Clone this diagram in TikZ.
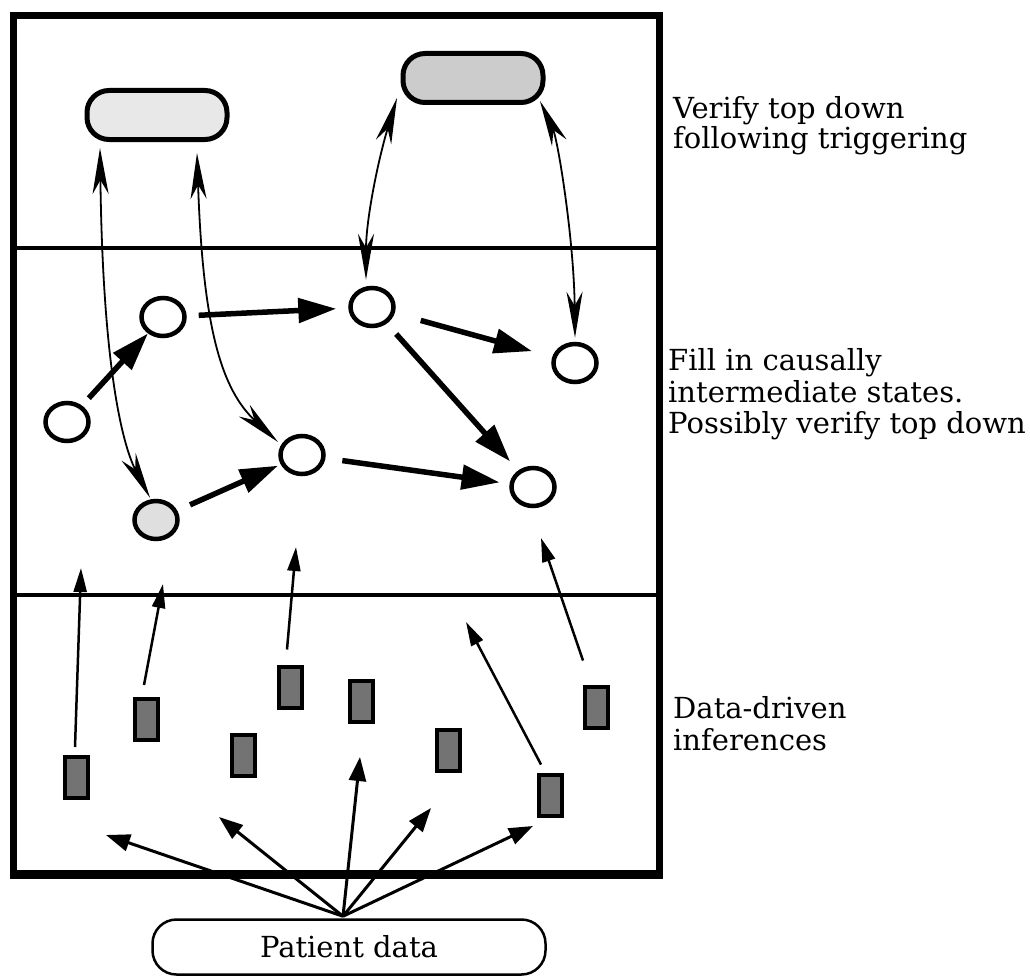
\documentclass[tikz,border=0pt]{standalone}
\usepackage{fontspec}
\setmainfont{DejaVu Serif}
\usetikzlibrary{arrows.meta,shapes.geometric}
\begin{document}
\begin{tikzpicture}[x=1pt,y=-1pt,
  frame/.style={line width=7pt},
  divider/.style={line width=3.5pt},
  hyp/.style={draw,line width=5pt,rounded corners=22pt,minimum width=140pt,minimum height=49pt,inner sep=0pt},
  state/.style={ellipse,draw,line width=4.5pt,minimum width=43pt,minimum height=38pt,inner sep=0pt,fill=white},
  datum/.style={draw,line width=4pt,fill=black!55,minimum width=23pt,minimum height=41pt,inner sep=0pt},
  causal/.style={line width=5.5pt,-{Triangle[length=38pt,width=24pt]}},
  verify/.style={line width=1.8pt,{Stealth[length=46pt,width=16pt,inset=14pt]}-{Stealth[length=46pt,width=16pt,inset=14pt]}},
  infer/.style={line width=2.5pt,-{Triangle[length=24pt,width=13pt]}},
  feed/.style={line width=3pt,-{Triangle[length=24pt,width=17pt]}},
  lbl/.style={anchor=base west,inner sep=0pt,font=\fontsize{29}{34}\selectfont},
  ]
\useasboundingbox (0,0) rectangle (1030,979);
\fill[white] (0,0) rectangle (1030,979);

% frame and layers
\draw[frame] (13,16) rectangle (659,874);
\draw[line width=9pt] (9.5,874) -- (662.5,874);
\draw[divider] (13,248) -- (659,248);
\draw[divider] (13,595) -- (659,595);

% top-level hypotheses
\node[hyp,fill=gray!18] (b1) at (157,115) {};
\node[hyp,fill=gray!40] (b2) at (473,78) {};

% intermediate states
\node[state] (c1) at (163,317) {};
\node[state] (c2) at (372,307) {};
\node[state] (c3) at (575,363) {};
\node[state] (c4) at (67,422) {};
\node[state] (c5) at (302,455) {};
\node[state] (c6) at (533,487) {};
\node[state,fill=gray!25] (c7) at (156,520) {};

% data-driven inferences
\node[datum] (r1) at (76.5,777.5) {};
\node[datum] (r2) at (146,719.5) {};
\node[datum] (r3) at (243,755) {};
\node[datum] (r4) at (290,687) {};
\node[datum] (r5) at (361,701) {};
\node[datum] (r6) at (448,750) {};
\node[datum] (r7) at (550,795) {};
\node[datum] (r8) at (596,707) {};

% patient data
\node[draw,line width=2.5pt,rounded corners=24pt,minimum width=393pt,minimum height=55pt,font=\fontsize{29}{34}\selectfont] (pd) at (349,947) {Patient data};

% causal links
\draw[causal,shorten <=10pt,shorten >=0pt] (c4) -- (c1);
\draw[causal,shorten <=12pt,shorten >=12pt] (c1) -- (c2);
\draw[causal,shorten <=27pt,shorten >=21pt] (c2) -- (c3);
\draw[causal,shorten <=14pt,shorten >=12pt] (c2) -- (c6);
\draw[causal,shorten <=14pt,shorten >=3pt] (c7) -- (c5);
\draw[causal,shorten <=17pt,shorten >=10pt] (c5) -- (c6);

% top-down verification
\draw[verify] ([xshift=-57pt,yshift=-6pt]b1.south) .. controls (103,380) and (125,450) .. ([xshift=-6pt,yshift=1pt]c7.north);
\draw[verify] ([xshift=40pt,yshift=-11pt]b1.south) .. controls (203,330) and (222,390) .. ([xshift=-24pt,yshift=13pt]c5.center);
\draw[verify] ([xshift=-3.5pt,yshift=7pt]b2.south west) .. controls (378,160) and (366,220) .. ([xshift=-6pt,yshift=6pt]c2.north);
\draw[verify] ([xshift=-5.5pt,yshift=4pt]b2.south east) .. controls (558,140) and (574,240) .. ([yshift=4pt]c3.north);

% inferences upward
\coordinate (t1) at (81,568);
\coordinate (t2) at (163,584);
\coordinate (t3) at (296,547);
\coordinate (t4) at (466,622);
\coordinate (t5) at (541,538);
\draw[infer] ([xshift=-1.5pt,yshift=8pt]r1.north) -- (t1);
\draw[infer] ([xshift=-2pt,yshift=12pt]r2.north) -- (t2);
\draw[infer] ([xshift=-3pt,yshift=15pt]r4.north) -- (t3);
\draw[infer] ([xshift=-9pt,yshift=8pt]r7.north) -- (t4);
\draw[infer] ([xshift=-13pt,yshift=24pt]r8.north) -- (t5);

% patient data feeds
\coordinate (p1) at (106,835);
\coordinate (p2) at (219,817);
\coordinate (p3) at (360,757);
\coordinate (p4) at (431,808);
\coordinate (p5) at (533,826);
\foreach \p in {p1,p2,p3,p4,p5}
  \draw[feed] ([xshift=-6pt,yshift=2pt]pd.north) -- (\p);

% layer labels
\node[lbl] (la1) at (673,118) {Verify top down};
\node[lbl] (la2) at (673,148) {following triggering};
\node[lbl] (lb1) at (668,370) {Fill in causally};
\node[lbl] (lb2) at (668,402) {intermediate states.};
\node[lbl] (lb3) at (668,433) {Possibly verify top down};
\node[lbl] (lc1) at (673,718) {Data-driven};
\node[lbl] (lc2) at (673,750) {inferences};
\end{tikzpicture}
\end{document}
